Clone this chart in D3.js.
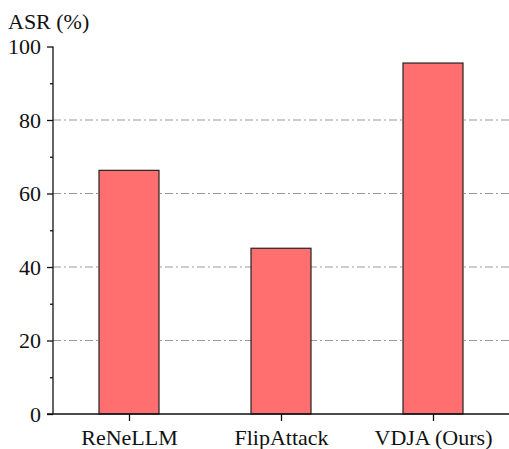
<!DOCTYPE html>
<html><head><meta charset="utf-8">
<script src="https://cdn.jsdelivr.net/npm/d3@7"></script>
<style>body{margin:0;background:#fff}</style>
</head><body>
<svg id="c" width="509" height="449"></svg>
<script>
const categories = ["ReNeLLM", "FlipAttack", "VDJA (Ours)"];
const asrValues = [66.3, 45.1, 95.5];
const yTicks = [0, 20, 40, 60, 80, 100];
const yMinorTicks = [10, 30, 50, 70, 90];
const gridTicks = [20, 40, 60, 80];
const yLabel = "ASR (%)";

(function () {
const svg = d3.select("#c");
const FONT = "Liberation Serif";
const mLeft = 53, mRight = 509, mTop = 46.5, mBottom = 414;

const xc = d3.scalePoint().domain(categories).range([mLeft, mRight]).padding(0.5);
const y = d3.scaleLinear().domain([0, 100]).range([mBottom, mTop]);

// grid
svg.append("g").selectAll("line").data(gridTicks).join("line")
  .attr("x1", mLeft).attr("x2", mRight)
  .attr("y1", d => y(d)).attr("y2", d => y(d))
  .attr("stroke", "#999").attr("stroke-width", 1.2)
  .attr("stroke-dasharray", "8,3,2,3");

// bars
const bw = 60;
svg.append("g").selectAll("rect").data(categories).join("rect")
  .attr("x", d => xc(d) - bw / 2).attr("width", bw)
  .attr("y", (d, i) => y(asrValues[i]))
  .attr("height", (d, i) => y(0) - y(asrValues[i]))
  .attr("fill", "#FF6F6F").attr("stroke", "#222").attr("stroke-width", 1.2);

// y axis
const ya = svg.append("g").attr("transform", `translate(${mLeft},0)`)
  .call(d3.axisLeft(y).tickValues(yTicks).tickSize(6).tickPadding(6).tickSizeOuter(0));
ya.attr("font-family", FONT).attr("font-size", 22);
ya.select(".domain").attr("stroke", "#111").attr("stroke-width", 1.3).attr("d", `M0,${mBottom}V${mTop}`);
ya.selectAll(".tick line").attr("stroke", "#111").attr("stroke-width", 1.3);
ya.selectAll("text").attr("fill", "#111");
svg.append("g").attr("transform", `translate(${mLeft},0)`)
  .call(d3.axisLeft(y).tickValues(yMinorTicks).tickSize(3).tickFormat(""))
  .call(g => g.select(".domain").remove())
  .selectAll("line").attr("stroke", "#111").attr("stroke-width", 1.3);

// x axis
const xa = svg.append("g").attr("transform", `translate(0,${mBottom})`)
  .call(d3.axisBottom(xc).tickSize(7).tickPadding(8).tickSizeOuter(0));
xa.attr("font-family", FONT).attr("font-size", 22);
xa.select(".domain").attr("stroke", "#111").attr("stroke-width", 1.3).attr("d", `M${mLeft - 6},0H${mRight}`);
xa.selectAll(".tick line").attr("stroke", "#111").attr("stroke-width", 1.3);
xa.selectAll("text").attr("fill", "#111");

svg.append("text").attr("x", 8).attr("y", 29).text(yLabel)
  .attr("font-family", FONT).attr("font-size", 22).attr("fill", "#111");
})();
</script>
</body></html>
